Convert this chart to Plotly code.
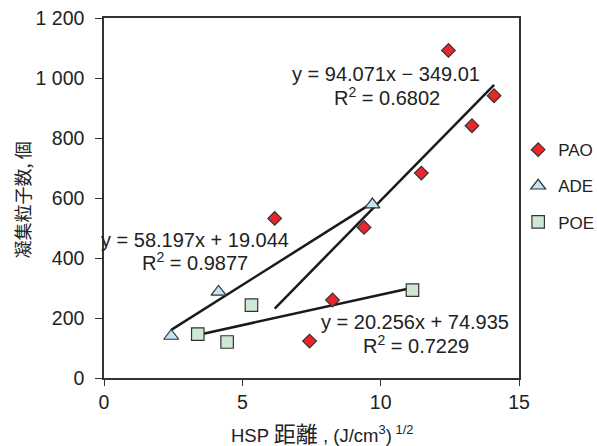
import plotly.graph_objects as go

# ---- data ----
pao_x = [6.17, 7.43, 8.26, 9.40, 11.47, 12.45, 13.30, 14.10]
pao_y = [532, 123, 260, 502, 683, 1092, 841, 941]
ade_x = [2.43, 4.14, 9.70]
ade_y = [140, 287, 578]
poe_x = [3.39, 4.45, 5.33, 11.15]
poe_y = [146, 120, 243, 293]

series_names = ["PAO", "ADE", "POE"]
fit_slope = [94.071, 58.197, 20.256]
fit_intercept = [-349.01, 19.044, 74.935]
fit_r2 = ["0.6802", "0.9877", "0.7229"]
fit_eq = ["y = 94.071x − 349.01", "y = 58.197x + 19.044", "y = 20.256x + 74.935"]

y_tickvals = [0, 200, 400, 600, 800, 1000, 1200]
y_ticktext = ["0", "200", "400", "600", "800", "1 000", "1 200"]
x_tickvals = [0, 5, 10, 15]

FONT = "Liberation Sans, Arial, Noto Sans CJK JP, sans-serif"
TXT = "#222222"

fig = go.Figure()

styles = [
    dict(symbol="diamond", size=10.5, color="#e8262b"),
    dict(symbol="triangle-up", size=13, color="#c3e4f4"),
    dict(symbol="square", size=12.5, color="#cfe8d5"),
]
xs = [pao_x, ade_x, poe_x]
ys = [pao_y, ade_y, poe_y]

# trend lines (drawn below markers)
for i in range(3):
    x0, x1 = min(xs[i]), max(xs[i])
    fig.add_trace(go.Scatter(
        x=[x0, x1],
        y=[fit_slope[i] * x0 + fit_intercept[i], fit_slope[i] * x1 + fit_intercept[i]],
        mode="lines", line=dict(color="#1a1a1a", width=2.5),
        showlegend=False, hoverinfo="skip"))

for i in range(3):
    st = styles[i]
    fig.add_trace(go.Scatter(
        x=xs[i], y=ys[i], mode="markers", name=series_names[i],
        legendgroup=series_names[i],
        marker=dict(symbol=st["symbol"], size=st["size"], color=st["color"],
                    line=dict(color="#333333", width=1.2))))

# equation annotations
eq_pos = [(10.18, 1012), (3.30, 460), (11.25, 188)]
r2_pos = [(10.22, 938), (3.30, 390), (11.27, 113)]
for i in range(3):
    fig.add_annotation(x=eq_pos[i][0], y=eq_pos[i][1], text=fit_eq[i],
                       showarrow=False, xanchor="center", yanchor="middle",
                       font=dict(family=FONT, size=20, color=TXT))
    fig.add_annotation(x=r2_pos[i][0], y=r2_pos[i][1],
                       text="R<sup>2</sup> = " + fit_r2[i],
                       showarrow=False, xanchor="center", yanchor="middle",
                       font=dict(family=FONT, size=20, color=TXT))

# axis titles as annotations
fig.add_annotation(xref="paper", yref="paper", x=0.525, y=-0.157,
                   text="HSP <span style='font-size:22px'>距離</span> , "
                        "(J/cm<sup>3</sup>)<sup> 1/2</sup>",
                   showarrow=False, xanchor="center", yanchor="middle",
                   font=dict(family=FONT, size=18.5, color=TXT))
fig.add_annotation(xref="paper", yref="paper", x=-0.197, y=0.494,
                   text="凝集粒子数, 個", textangle=-90,
                   showarrow=False, xanchor="center", yanchor="middle",
                   font=dict(family="Noto Sans CJK JP, sans-serif", size=18, color=TXT))

fig.update_layout(
    width=597, height=446,
    margin=dict(l=104, r=78, t=18, b=68, autoexpand=False),
    paper_bgcolor="white", plot_bgcolor="white",
    font=dict(family=FONT, color=TXT),
    legend=dict(x=0.998, y=0.533, xanchor="left", yanchor="middle",
                font=dict(family=FONT, size=17, color=TXT),
                tracegroupgap=11, bgcolor="rgba(0,0,0,0)"),
)
fig.update_xaxes(range=[0, 15], tickvals=x_tickvals, ticks="outside", ticklen=6,
                 tickwidth=1.2, tickcolor="#333", showline=True, linecolor="#333",
                 linewidth=1.5, mirror=True, showgrid=False, zeroline=False,
                 automargin=False,
                 tickfont=dict(family=FONT, size=19.5, color=TXT))
fig.update_yaxes(range=[0, 1200], tickvals=y_tickvals, ticktext=y_ticktext,
                 ticks="outside", ticklen=7, tickwidth=1.2, tickcolor="#333",
                 showline=True, linecolor="#333", linewidth=1.5, mirror=True,
                 showgrid=False, zeroline=False, ticklabelstandoff=7,
                 automargin=False,
                 tickfont=dict(family=FONT, size=19.5, color=TXT))

fig.write_html(
    "out.html",
    config={"displayModeBar": False},
    post_script="document.body.style.margin='0';document.body.style.padding='0';"
                "document.body.style.overflow='hidden';",
)
